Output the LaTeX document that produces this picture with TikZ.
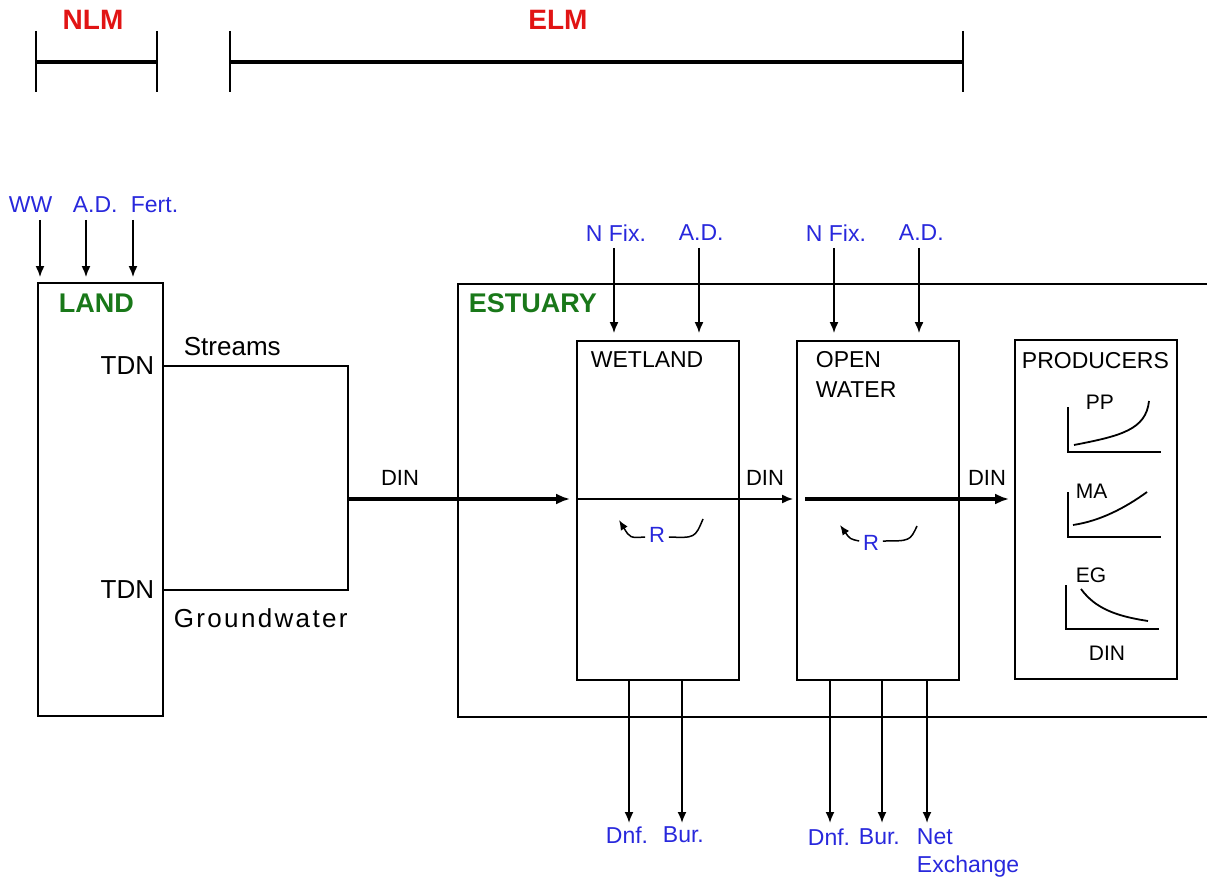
\documentclass[tikz,border=0pt]{standalone}
\usepackage{fontspec}
\setmainfont{Liberation Sans}
\usetikzlibrary{arrows.meta,calc}
\definecolor{lblue}{RGB}{40,40,220}
\definecolor{lred}{RGB}{225,20,20}
\definecolor{lgreen}{RGB}{25,120,25}
\begin{document}
\begin{tikzpicture}[x=1pt,y=-1pt, line width=1.8pt,
 box/.style={draw, line width=1.8pt, inner sep=0pt, rectangle},
 lbl/.style={font=\fontsize{23}{26}\selectfont, text=lblue, inner sep=0pt},
 blk/.style={font=\fontsize{26}{30}\selectfont, inner sep=0pt},
 sml/.style={font=\fontsize{23}{26}\selectfont, inner sep=0pt},
 din/.style={font=\fontsize{22}{26}\selectfont, inner sep=0pt},
 gl/.style={font=\fontsize{21}{24}\selectfont, inner sep=0pt},
 hdr/.style={font=\bfseries\fontsize{27}{30}\selectfont, text=lgreen, inner sep=0pt},
 ttl/.style={font=\bfseries\fontsize{28}{30}\selectfont, text=lred, inner sep=0pt},
 arr/.style={-{Latex[length=11pt,width=9pt]}, line width=1.8pt},
 rarr/.style={-{Latex[length=10pt,width=8pt]}, line width=1.5pt},
 tarr/.style={-{Latex[length=14pt,width=11pt]}, line width=3.2pt},
 bar/.style={line width=3.2pt},
 tick/.style={line width=1.8pt},
 axis/.style={line width=2.2pt},
 crv/.style={line width=1.8pt},
]
\useasboundingbox (0,0) rectangle (1207,882);

% ---- model bars ----
\node[ttl] (nlm) at (93,20) {NLM};
\node[ttl] (elm) at (558,20) {ELM};
\coordinate (nlmL) at (36,62);
\coordinate (nlmR) at (157,62);
\coordinate (elmL) at (230,62);
\coordinate (elmR) at (963,62);
\draw[bar] (nlmL) -- (nlmR);
\draw[bar] (elmL) -- (elmR);
\foreach \c in {nlmL,nlmR,elmL,elmR}
  \draw[tick] ($(\c)+(0,-31)$) -- ($(\c)+(0,30)$);

% ---- land ----
\node[box, minimum width=125pt, minimum height=433pt] (land) at (100.5,499.5) {};
\node[hdr, anchor=west] (landt) at (58,303) {LAND};
\node[lbl, anchor=west] (ww) at (8,205) {WW};
\node[lbl, anchor=west] (ad0) at (72,205) {A.D.};
\node[lbl, anchor=west] (fert) at (130,205) {Fert.};
\coordinate (iw) at (40,220);
\coordinate (ia) at (86,220);
\coordinate (if) at (133,220);
\foreach \c in {iw,ia,if}
  \draw[arr, shorten >=5pt] (\c) -- (\c |- land.north);

\node[blk, anchor=east] (tdn1) at (155,366) {TDN};
\node[blk, anchor=east] (tdn2) at (155,590) {TDN};
\node[blk, anchor=west] (streams) at (183,347) {Streams};
\node[blk, anchor=west, font=\fontsize{26}{30}\selectfont\addfontfeature{LetterSpace=9}] (gw) at (173,618) {Groundwater};
\coordinate (sj) at (348,499);
\draw (land.east |- tdn1) -- (sj |- tdn1) -- (sj |- tdn2) -- (land.east |- tdn2);
\node[din] (din1) at (400,478) {DIN};

% ---- estuary ----
\coordinate (esttr) at (1207,284);
\coordinate (esttl) at (458,284);
\coordinate (estbl) at (458,717);
\coordinate (estbr) at (1207,717);
\draw (esttr) -- (esttl) -- (estbl) -- (estbr);
\node[hdr, anchor=west] (estt) at (468,303) {ESTUARY};

\node[box, minimum width=162pt, minimum height=339pt] (wet) at (658,510.5) {};
\node[box, minimum width=162pt, minimum height=339pt] (ow) at (878,510.5) {};
\node[box, minimum width=162pt, minimum height=339pt] (prod) at (1096,509.5) {};
\node[sml, anchor=west] (wett) at (590,360) {WETLAND};
\node[sml, anchor=west] (owt1) at (815,360) {OPEN};
\node[sml, anchor=west] (owt2) at (815,390) {WATER};
\node[sml, anchor=west] (prodt) at (1021,361) {PRODUCERS};

% top inputs
\node[lbl, anchor=west] (nf1) at (585,233) {N Fix.};
\node[lbl, anchor=west] (ad1) at (678,233) {A.D.};
\node[lbl, anchor=west] (nf2) at (805,233) {N Fix.};
\node[lbl, anchor=west] (ad2) at (898,233) {A.D.};
\coordinate (inf1) at (614,248);
\coordinate (iad1) at (699,248);
\coordinate (inf2) at (834,248);
\coordinate (iad2) at (919,248);
\draw[arr, shorten >=7pt] (inf1) -- (inf1 |- wet.north);
\draw[arr, shorten >=7pt] (iad1) -- (iad1 |- wet.north);
\draw[arr, shorten >=7pt] (inf2) -- (inf2 |- ow.north);
\draw[arr, shorten >=7pt] (iad2) -- (iad2 |- ow.north);

% DIN flow
\draw[tarr, shorten >=6pt] (sj) -- (sj -| wet.west);
\draw[arr, shorten >=3pt] (sj -| wet.west) -- (sj -| ow.west);
\node[din] (din2) at (765,478) {DIN};
\coordinate (owin) at (805,499);
\draw[tarr, shorten >=5pt] (owin) -- (owin -| prod.west);
\node[din] (din3) at (987,478) {DIN};

% recycling
\node[lbl, font=\fontsize{22}{26}\selectfont] (r1) at (657,535) {R};
\draw[rarr] ($(r1.west)+(-3,2)$) .. controls (630,538) .. (619,520);
\draw[line width=1.5pt] ($(r1.east)+(3,2)$) .. controls (695,538) .. (703,519);
\node[lbl, font=\fontsize{22}{26}\selectfont] (r2) at (871,543) {R};
\draw[rarr] ($(r2.west)+(-3,-2)$) .. controls (850,539) .. (840,525);
\draw[line width=1.5pt] ($(r2.east)+(3,-2)$) .. controls (910,541) .. (917,526);

% producers graphs
\node[gl, anchor=west] (pp) at (1085,402) {PP};
\draw[axis] (1068,407) -- (1068,452) -- (1161,452);
\draw[crv] (1074,445) .. controls (1120,436) and (1146,430) .. (1149,401);
\node[gl, anchor=west] (ma) at (1075,491) {MA};
\draw[axis] (1068,492) -- (1068,537) -- (1161,537);
\draw[crv] (1073,525) .. controls (1100,521) and (1125,508) .. (1147,492);
\node[gl, anchor=west] (eg) at (1075,575) {EG};
\draw[axis] (1066,585) -- (1066,629) -- (1159,629);
\draw[crv] (1081,589) .. controls (1095,608) and (1115,616) .. (1148,621);
\node[gl] (din4) at (1107,653) {DIN};

% outputs
\coordinate (od1) at (629,823);
\coordinate (ob1) at (682,823);
\coordinate (od2) at (830,823);
\coordinate (ob2) at (882,823);
\coordinate (on2) at (927,823);
\draw[arr] (od1 |- wet.south) -- (od1);
\draw[arr] (ob1 |- wet.south) -- (ob1);
\draw[arr] (od2 |- ow.south) -- (od2);
\draw[arr] (ob2 |- ow.south) -- (ob2);
\draw[arr] (on2 |- ow.south) -- (on2);
\node[lbl, anchor=west] (dnf1) at (605,835) {Dnf.};
\node[lbl, anchor=west] (bur1) at (662,835) {Bur.};
\node[lbl, anchor=west] (dnf2) at (807,837) {Dnf.};
\node[lbl, anchor=west] (bur2) at (858,837) {Bur.};
\node[lbl, anchor=west] (net) at (916,837) {Net};
\node[lbl, anchor=west] (exch) at (916,867) {Exchange};
\end{tikzpicture}
\end{document}
